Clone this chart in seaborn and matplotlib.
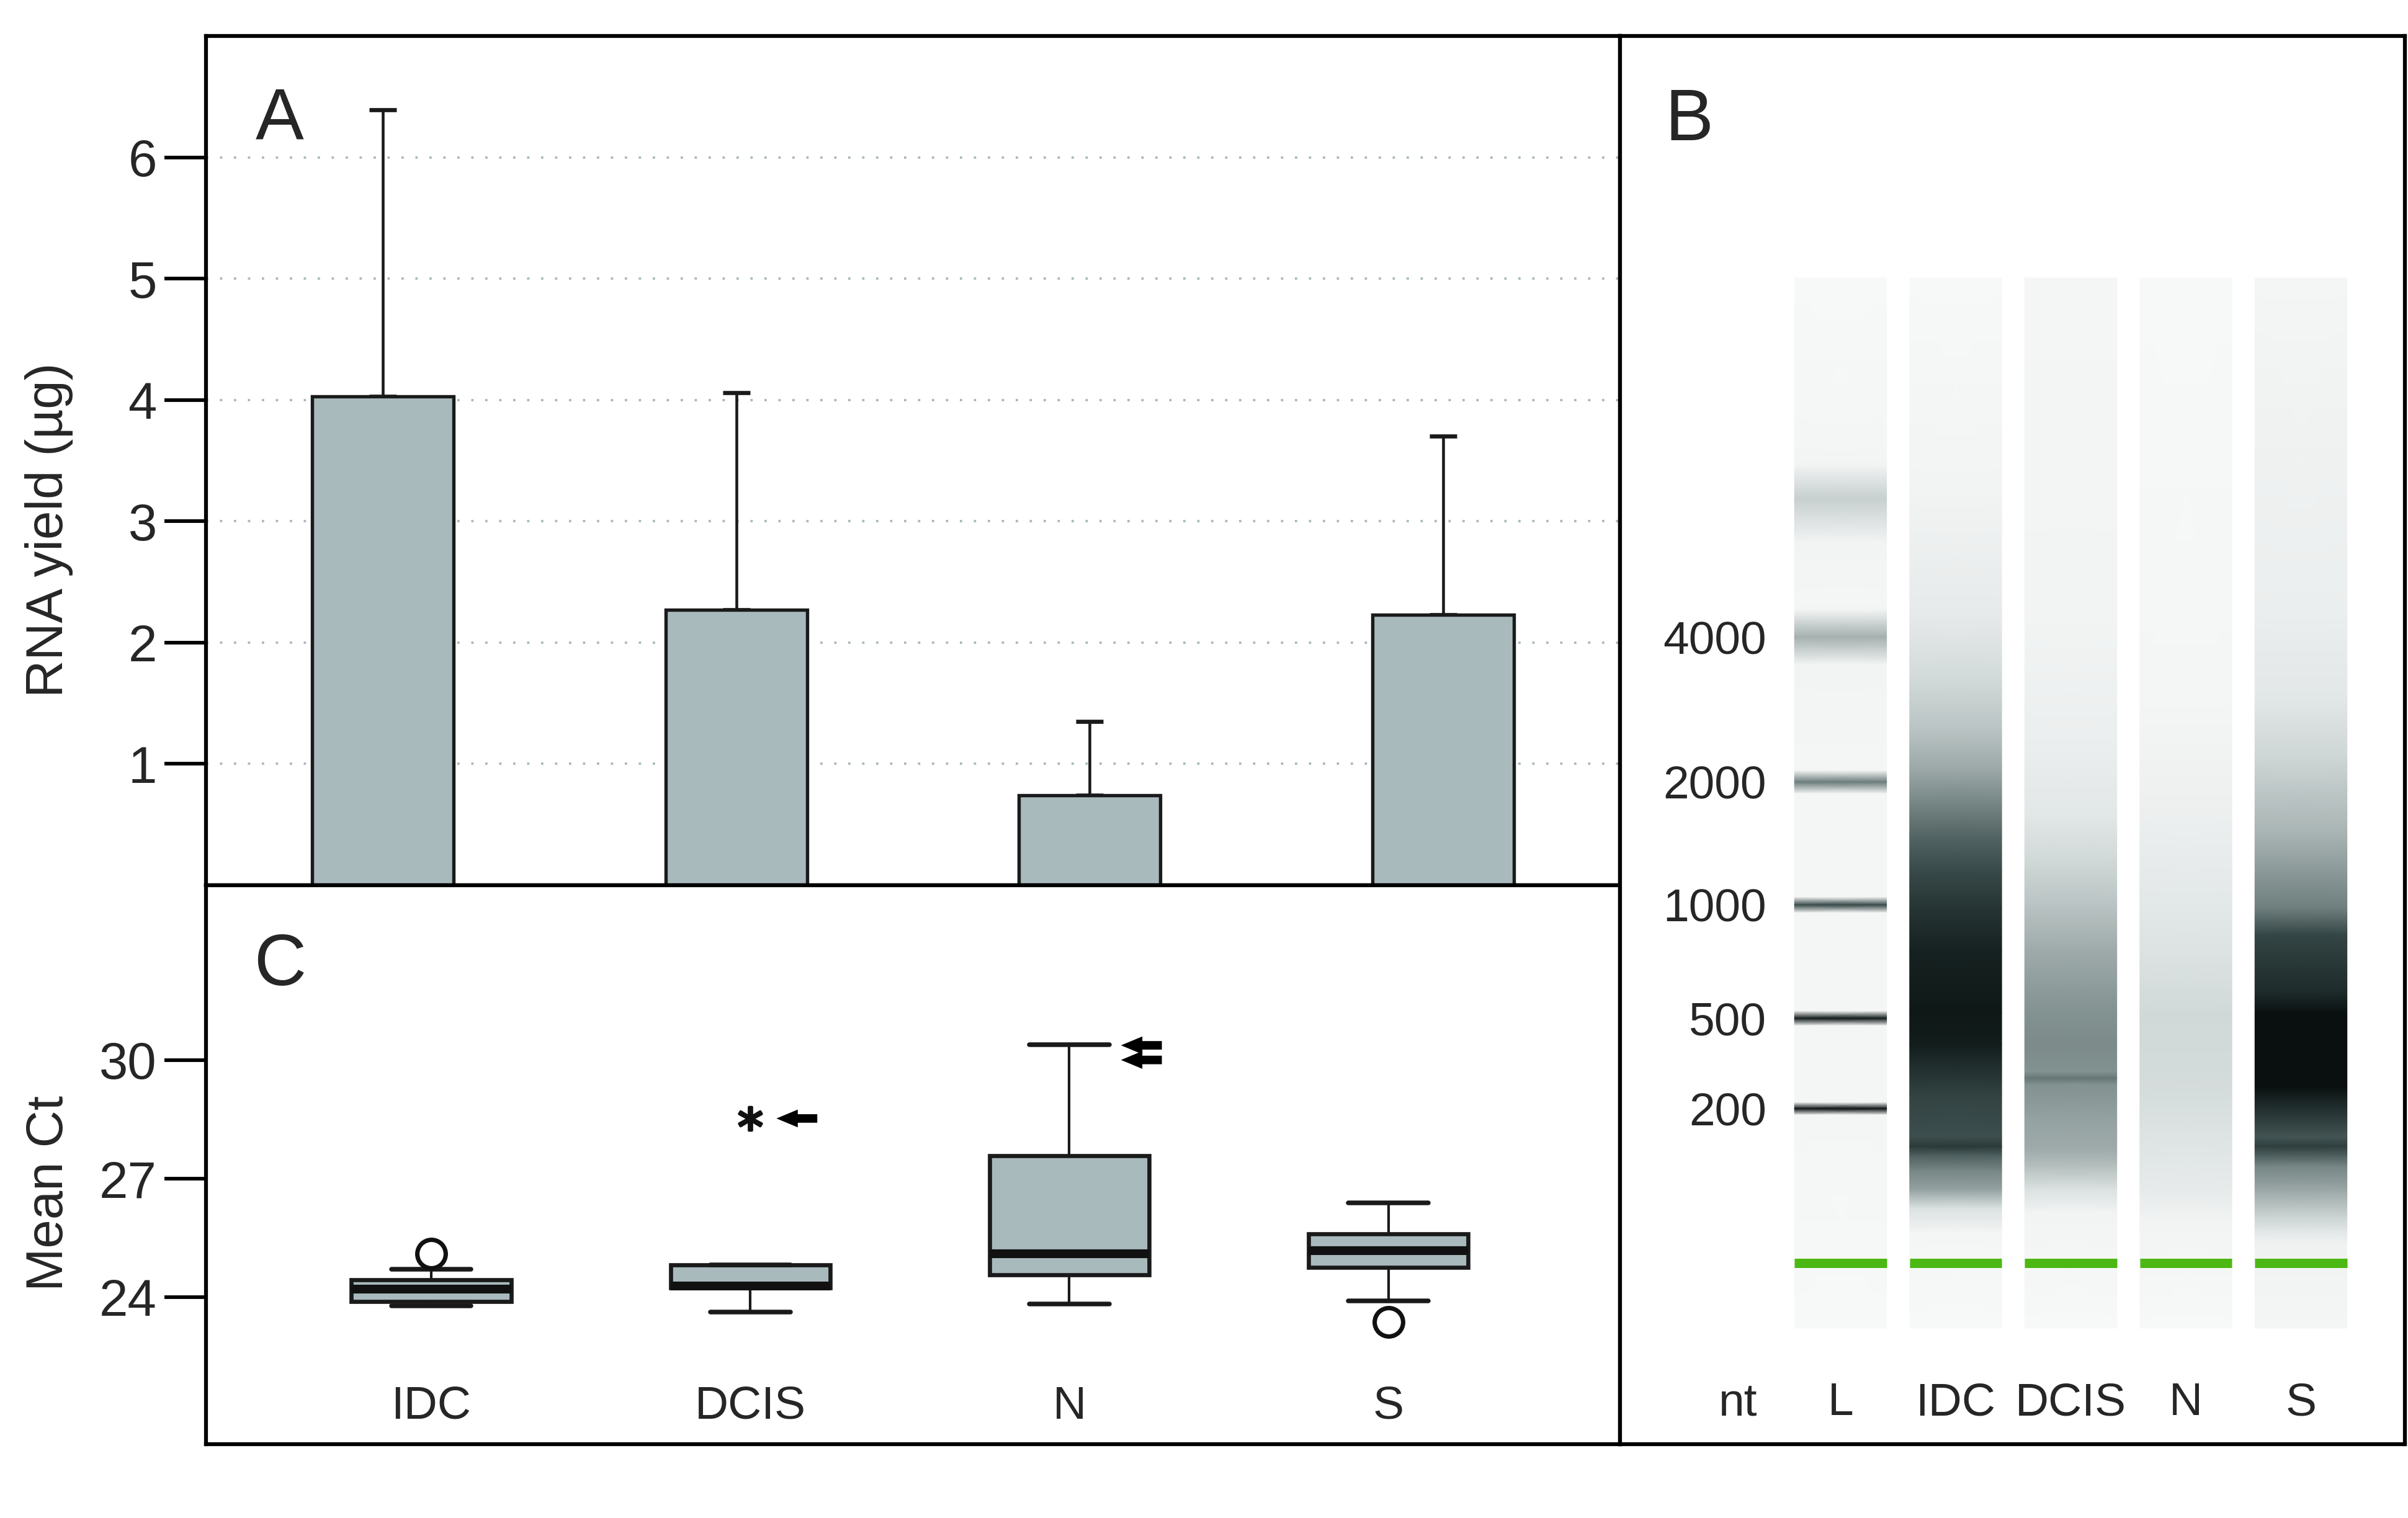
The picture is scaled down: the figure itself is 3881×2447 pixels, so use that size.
import numpy as np
import matplotlib
matplotlib.use("Agg")
import matplotlib.pyplot as plt
import seaborn as sns
from matplotlib.colors import LinearSegmentedColormap

# ---------------- data ----------------
# Panel A: RNA yield (bar = mean, error bar top = mean + SD)
groups = ["IDC", "DCIS", "N", "S"]
rna_yield_mean = [4.03, 2.27, 0.74, 2.23]
rna_yield_top = [6.39, 4.06, 1.35, 3.70]
a_yticks = [1, 2, 3, 4, 5, 6]

# Panel C: Mean Ct box plots
ct_whislo = [23.78, 23.62, 23.82, 23.91]
ct_q1 = [23.89, 24.24, 24.57, 24.76]
ct_median = [24.20, 24.28, 25.10, 25.18]
ct_q3 = [24.44, 24.82, 27.58, 25.60]
ct_whishi = [24.70, 24.82, 30.39, 26.38]
ct_outliers = [[25.10], [], [], [23.37]]
ct_extremes = [[], [28.52], [], []]
ct_arrow_values = [[], [28.52], [30.37, 30.00], []]
c_yticks = [24, 27, 30]

# Panel B: virtual gel (migration in % of gel height, signal 0..1)
gel_lanes = ["L", "IDC", "DCIS", "N", "S"]
ladder_nt = ["4000", "2000", "1000", "500", "200"]
ladder_band_pos = [34.2, 48.0, 59.7, 70.5, 79.1]
marker_pos = 93.8
lane_pos = {
    "L":    [0, 16, 17.8, 21.0, 25.2, 31.0, 31.6, 34.2, 36.8, 46.9, 48.0, 49.1, 58.95, 59.7, 60.45,
             69.8, 70.5, 71.2, 78.5, 79.1, 79.7, 100],
    "IDC":  [0, 20, 32, 38, 43, 47, 50, 53, 56.5, 60, 64, 70, 73, 77.8, 81.8, 82.7, 83.6,
             85, 86.8, 88.6, 91, 100],
    "DCIS": [0, 32, 45, 51, 55, 59.7, 64, 70, 73, 75.6, 76.2, 76.8, 80, 83, 84.6, 86.8, 89, 100],
    "N":    [0, 40, 50, 60, 65, 70, 75, 78, 82, 86.8, 90, 100],
    "S":    [0, 32, 40, 45.7, 53, 60, 62.6, 68, 70, 77, 79.5, 81.8, 82.7, 83.6, 84.6, 86.8, 89.5,
             90.3, 91.1, 92, 100],
}
lane_signal = {
    "L":    [0.03, 0.04, 0.05, 0.23, 0.05, 0.04, 0.05, 0.36, 0.05, 0.04, 0.56, 0.04, 0.04, 0.74, 0.04,
             0.04, 0.94, 0.04, 0.04, 0.97, 0.04, 0.03],
    "IDC":  [0.03, 0.05, 0.10, 0.18, 0.28, 0.40, 0.52, 0.64, 0.74, 0.82, 0.90, 0.94, 0.92, 0.76, 0.72,
             0.80, 0.66, 0.52, 0.42, 0.15, 0.04, 0.03],
    "DCIS": [0.04, 0.05, 0.08, 0.12, 0.18, 0.28, 0.38, 0.48, 0.50, 0.48, 0.58, 0.48, 0.42, 0.38, 0.30,
             0.15, 0.05, 0.03],
    "N":    [0.03, 0.04, 0.07, 0.12, 0.15, 0.19, 0.18, 0.17, 0.14, 0.10, 0.05, 0.03],
    "S":    [0.04, 0.08, 0.12, 0.20, 0.35, 0.55, 0.75, 0.86, 0.97, 0.97, 0.82, 0.70, 0.78, 0.66, 0.52,
             0.40, 0.20, 0.16, 0.10, 0.06, 0.04],
}

# ---------------- style ----------------
sns.set_style("ticks")
plt.rcParams["font.family"] = ["Liberation Sans", "DejaVu Sans"]
plt.rcParams["axes.linewidth"] = 1.5

bar_color = "#a9babd"
ink = "#1a1a1a"

W, H = 3881, 2447
fig = plt.figure(figsize=(W / 300, H / 300), dpi=300)
xl, xm, xr = 332 / W, 2611 / W, 3876 / W
yt, ym, yb = 1 - 58 / H, 1 - 1427 / H, 1 - 2328 / H
axA = fig.add_axes([xl, ym, xm - xl, yt - ym])
axC = fig.add_axes([xl, yb, xm - xl, ym - yb])
axB = fig.add_axes([xm, yb, xr - xm, yt - yb])

for ax in (axA, axB, axC):
    for s in ax.spines.values():
        s.set_visible(True)
        s.set_linewidth(1.5)
        s.set_color("black")

# ---------------- Panel A ----------------
sns.barplot(x=groups, y=rna_yield_mean, color=bar_color, edgecolor=ink,
            linewidth=1.3, width=0.4, errorbar=None, saturation=1, ax=axA, zorder=2)
mean_arr = np.array(rna_yield_mean)
upper = np.array(rna_yield_top) - mean_arr
axA.errorbar(np.arange(len(groups)), mean_arr, yerr=[np.zeros_like(upper), upper],
             fmt="none", ecolor=ink, elinewidth=1.1, capsize=5.2, capthick=1.6, zorder=1)
axA.set_xlim(-0.5, 3.5)
axA.set_ylim(0, 7.0)
axA.set_yticks(a_yticks)
axA.set_yticklabels([str(v) for v in a_yticks])
axA.tick_params(axis="y", length=16, width=1.4, labelsize=20, pad=3, color="black")
axA.tick_params(axis="x", bottom=False, labelbottom=False)
axA.set_xlabel("")
axA.grid(axis="y", linestyle=(0, (1, 5)), color="#a9b8b8", linewidth=0.9)
axA.set_axisbelow(True)
axA.set_ylabel("RNA yield (µg)", fontsize=20)
axA.yaxis.set_label_coords(-0.094, 0.418)
axA.text(0.0522, 0.9094, "A", transform=axA.transAxes, fontsize=28,
         ha="center", va="center_baseline")

# ---------------- Panel C ----------------
stats = []
for i in range(len(groups)):
    stats.append(dict(med=ct_median[i], q1=ct_q1[i], q3=ct_q3[i],
                      whislo=ct_whislo[i], whishi=ct_whishi[i], fliers=ct_outliers[i]))
axC.bxp(stats, positions=np.arange(len(groups)), widths=0.5, patch_artist=True,
        manage_ticks=False,
        boxprops=dict(facecolor=bar_color, edgecolor=ink, linewidth=1.6),
        medianprops=dict(color="#111111", linewidth=3.4),
        whiskerprops=dict(color=ink, linewidth=1.0),
        capprops=dict(color=ink, linewidth=1.8),
        flierprops=dict(marker="o", markerfacecolor="white", markeredgecolor="#111111",
                        markersize=11, markeredgewidth=1.7))
for i, vals in enumerate(ct_extremes):
    if vals:
        axC.plot([i] * len(vals), vals, linestyle="none", marker="$*$", markersize=9,
                 color="#111111")
arrow_offsets = {1: (0.082, 0.21), 2: (0.162, 0.29)}
for i, vals in enumerate(ct_arrow_values):
    for v in vals:
        head, tail = arrow_offsets[i]
        axC.annotate("", xy=(i + head, v), xytext=(i + tail, v),
                     arrowprops=dict(arrowstyle="simple,head_length=1.5,head_width=1.25,tail_width=0.6",
                                     mutation_scale=5.5, fc="black", ec="none",
                                     shrinkA=0, shrinkB=0))
axC.set_xlim(-0.706, 3.726)
axC.set_ylim(20.28, 34.42)
axC.set_yticks(c_yticks)
axC.set_yticklabels([str(v) for v in c_yticks])
axC.tick_params(axis="y", length=16, width=1.4, labelsize=20, pad=3, color="black")
axC.tick_params(axis="x", bottom=False, labelbottom=False)
for i, g in enumerate(groups):
    axC.text(i, 21.35, g, fontsize=18, ha="center", va="center_baseline")
axC.set_ylabel("Mean Ct", fontsize=20)
axC.yaxis.set_label_coords(-0.094, 0.4495)
axC.text(0.0522, 0.868, "C", transform=axC.transAxes, fontsize=28,
         ha="center", va="center_baseline")

# ---------------- Panel B ----------------
gel_cmap = LinearSegmentedColormap.from_list(
    "gel", [(0.0, "#ffffff"), (0.04, "#f4f5f5"), (0.15, "#dbe1e1"), (0.35, "#a7b3b2"),
            (0.55, "#6e7f7e"), (0.75, "#344645"), (0.9, "#162221"), (1.0, "#050909")])
lane_half = 0.40
for j, lane in enumerate(gel_lanes):
    p = np.array(lane_pos[lane], dtype=float)
    s = np.array(lane_signal[lane], dtype=float)
    X = np.column_stack([np.full_like(p, j - lane_half), np.full_like(p, j + lane_half)])
    Y = np.column_stack([p, p])
    C = np.column_stack([s, s])
    axB.pcolormesh(X, Y, C, shading="gouraud", cmap=gel_cmap, vmin=0, vmax=1)
axB.hlines([marker_pos] * len(gel_lanes), np.arange(len(gel_lanes)) - lane_half,
           np.arange(len(gel_lanes)) + lane_half, color="#4cb814", linewidth=3.6)
axB.set_xlim(-1.916, 4.903)
axB.set_ylim(111.05, -23.04)
axB.set_xticks([])
axB.set_yticks([])
for lab, pos in zip(ladder_nt, ladder_band_pos):
    axB.text(-0.644, pos, lab, fontsize=18, ha="right", va="center_baseline")
axB.text(-0.892, 106.7, "nt", fontsize=18, ha="center", va="center_baseline")
for j, lane in enumerate(gel_lanes):
    axB.text(j, 106.7, lane, fontsize=18, ha="center", va="center_baseline")
axB.text(0.0877, 0.9445, "B", transform=axB.transAxes, fontsize=28,
         ha="center", va="center_baseline")

fig.savefig("out.png", dpi=300, facecolor="white")
